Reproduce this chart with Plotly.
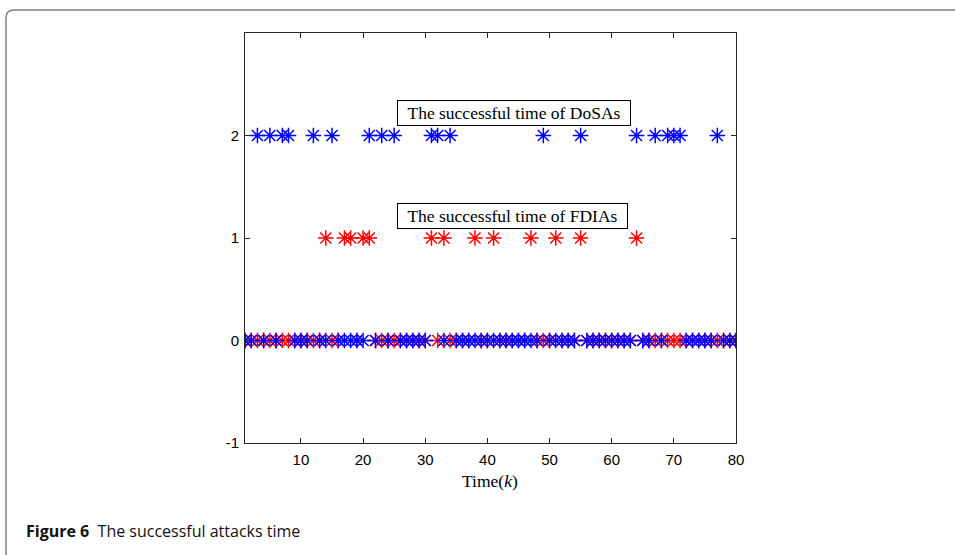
import plotly.graph_objects as go

# ---- data ----
k_values = list(range(1, 81))
dosa_success_times = [3, 5, 7, 8, 12, 15, 21, 23, 25, 31, 32, 34, 49, 55, 64, 67, 69, 70, 71, 77]
fdia_success_times = [14, 17, 18, 20, 21, 31, 33, 38, 41, 47, 51, 55, 64]
dosa_level = 2
fdia_level = 1
x_ticks = [10, 20, 30, 40, 50, 60, 70, 80]
y_ticks = [-1, 0, 1, 2]
y_tick_labels = ["-1", "0", "1", "2"]
dosa_label = "The successful time of DoSAs"
fdia_label = "The successful time of FDIAs"
x_title = "Time(<i>k</i>)"
caption_bold = "Figure 6"
caption_text = "The successful attacks time"

dosa_y = [dosa_level if k in dosa_success_times else 0 for k in k_values]
fdia_y = [fdia_level if k in fdia_success_times else 0 for k in k_values]

W, H = 955, 555
L, R, T, B = 245, 955 - 736, 33, 555 - 443
PW, PH = W - L - R, H - T - B

def px(x):
    return (x - L) / PW

def py(y):
    return (H - B - y) / PH

fig = go.Figure()
marker_common = dict(symbol="asterisk", size=13)
fig.add_trace(go.Scatter(x=k_values, y=fdia_y, mode="markers",
                         marker=dict(**marker_common, color="#ff0000",
                                     line=dict(color="#ff0000", width=1.5)),
                         showlegend=False))
fig.add_trace(go.Scatter(x=k_values, y=dosa_y, mode="markers",
                         marker=dict(**marker_common, color="#0000ff",
                                     line=dict(color="#0000ff", width=1.5)),
                         showlegend=False))

axis_common = dict(showline=True, linecolor="#262626", linewidth=1, mirror="ticks",
                   ticks="inside", ticklen=5, tickcolor="#262626", showgrid=False,
                   zeroline=False,
                   tickfont=dict(family="Liberation Sans, Arial, sans-serif", size=15, color="#000"))
fig.update_xaxes(range=[1, 80], tickvals=x_ticks, ticklabelstandoff=3, **axis_common)
fig.update_yaxes(range=[-1, 3], tickvals=y_ticks, ticktext=y_tick_labels, ticklabelstandoff=2,
                 **axis_common)

serif = "Liberation Serif, Times New Roman, serif"
fig.add_annotation(x=px(513.5), y=py(113), xref="paper", yref="paper", text=dosa_label,
                   showarrow=False, width=228, height=20, xanchor="center", yanchor="middle",
                   font=dict(family=serif, size=17.5, color="#000"),
                   bordercolor="#000", borderwidth=1, borderpad=2, bgcolor="white")
fig.add_annotation(x=px(512), y=py(216.5), xref="paper", yref="paper", text=fdia_label,
                   showarrow=False, width=225, height=20, xanchor="center", yanchor="middle",
                   font=dict(family=serif, size=17.5, color="#000"),
                   bordercolor="#000", borderwidth=1, borderpad=2, bgcolor="white")
fig.add_annotation(x=px(490), y=py(481), xref="paper", yref="paper", text=x_title,
                   showarrow=False, font=dict(family=serif, size=17.5, color="#000"),
                   xanchor="center", yanchor="middle")
fig.add_annotation(x=px(24), y=py(531), xref="paper", yref="paper",
                   text="<b>" + caption_bold + "</b>  " + caption_text,
                   showarrow=False, font=dict(family="Open Sans, Noto Sans, sans-serif", size=16, color="#111"),
                   xanchor="left", yanchor="middle")

# outer rounded frame (decoration)
r = 8
x0, y0 = 6, 10
path = (f"M {px(x0)},{py(H + 10)} L {px(x0)},{py(y0 + r)} "
        f"Q {px(x0)},{py(y0)} {px(x0 + r)},{py(y0)} L {px(W + 10)},{py(y0)}")
fig.add_shape(type="path", path=path, xref="paper", yref="paper",
              line=dict(color="#808080", width=1.5), layer="below")

fig.update_layout(width=W, height=H, margin=dict(l=L, r=R, t=T, b=B, autoexpand=False),
                  paper_bgcolor="white", plot_bgcolor="white")

fig.write_html("out.html", config={"displayModeBar": False},
               post_script="document.body.style.margin='0';document.body.style.overflow='hidden';")
